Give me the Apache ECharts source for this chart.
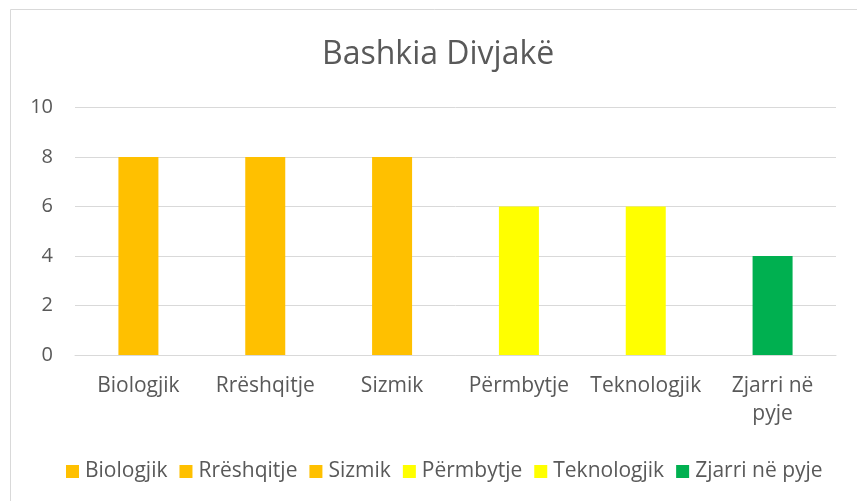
<!DOCTYPE html>
<html>
<head>
<meta charset="utf-8">
<script src="https://cdn.jsdelivr.net/npm/echarts@6/dist/echarts.min.js"></script>
<style>
    html, body { margin: 0; padding: 0; background: #fff; }
    #chart { width: 857px; height: 501px; }
</style>
</head>
<body>
<div id="chart"></div>
<script>
const categories = ['Biologjik', 'Rrëshqitje', 'Sizmik', 'Përmbytje', 'Teknologjik', 'Zjarri në pyje']
const values = [8, 8, 8, 6, 6, 4]
const colors = ['#FFC000', '#FFC000', '#FFC000', '#FFFF00', '#FFFF00', '#00B050']
const yTicks = [0, 2, 4, 6, 8, 10]

const font = 'Open Sans, sans-serif'
const textColor = '#595959'

// one series per category so the legend lists every category, stacked so bars stay centred
const series = categories.map((name, i) => ({
    name: name,
    type: 'bar',
    stack: 'all',
    barWidth: 40,
    itemStyle: { color: colors[i] },
    data: categories.map((c, j) => (j === i ? values[i] : null))
}))

const chart = echarts.init(document.getElementById('chart'), null, { renderer: 'canvas' })
chart.setOption({
    animation: false,
    graphic: [{
        type: 'rect',
        shape: { x: 10.5, y: 9.5, width: 860, height: 500 },
        style: { fill: 'none', stroke: '#d9d9d9', lineWidth: 1 },
        silent: true
    }],
    title: {
        text: 'Bashkia Divjakë',
        left: 317,
        top: 34,
        textStyle: { fontFamily: font, fontSize: 32, fontWeight: 'normal', color: textColor }
    },
    legend: {
        top: 456,
        left: 61,
        itemWidth: 13,
        itemHeight: 13,
        itemGap: 12,
        icon: 'rect',
        textStyle: { fontFamily: font, fontSize: 21, color: textColor, padding: [0, 0, 0, 1] },
        data: categories
    },
    grid: { left: 75, right: 21, top: 107.5, bottom: 146 },
    xAxis: {
        type: 'category',
        data: categories,
        axisLine: { lineStyle: { color: '#d9d9d9' } },
        axisTick: { show: false },
        axisLabel: {
            interval: 0,
            margin: 17,
            fontFamily: font,
            fontSize: 21,
            color: textColor,
            lineHeight: 28,
            formatter: v => (v.length > 12 ? v.replace(/ (\S+)$/, '\n$1') : v)
        }
    },
    yAxis: {
        type: 'value',
        min: yTicks[0],
        max: yTicks[yTicks.length - 1],
        interval: 2,
        axisLine: { show: false },
        axisTick: { show: false },
        splitLine: { lineStyle: { color: '#d9d9d9', width: 1 } },
        axisLabel: { margin: 22, fontFamily: font, fontSize: 20, color: textColor }
    },
    series: series
})
</script>
</body>
</html>
